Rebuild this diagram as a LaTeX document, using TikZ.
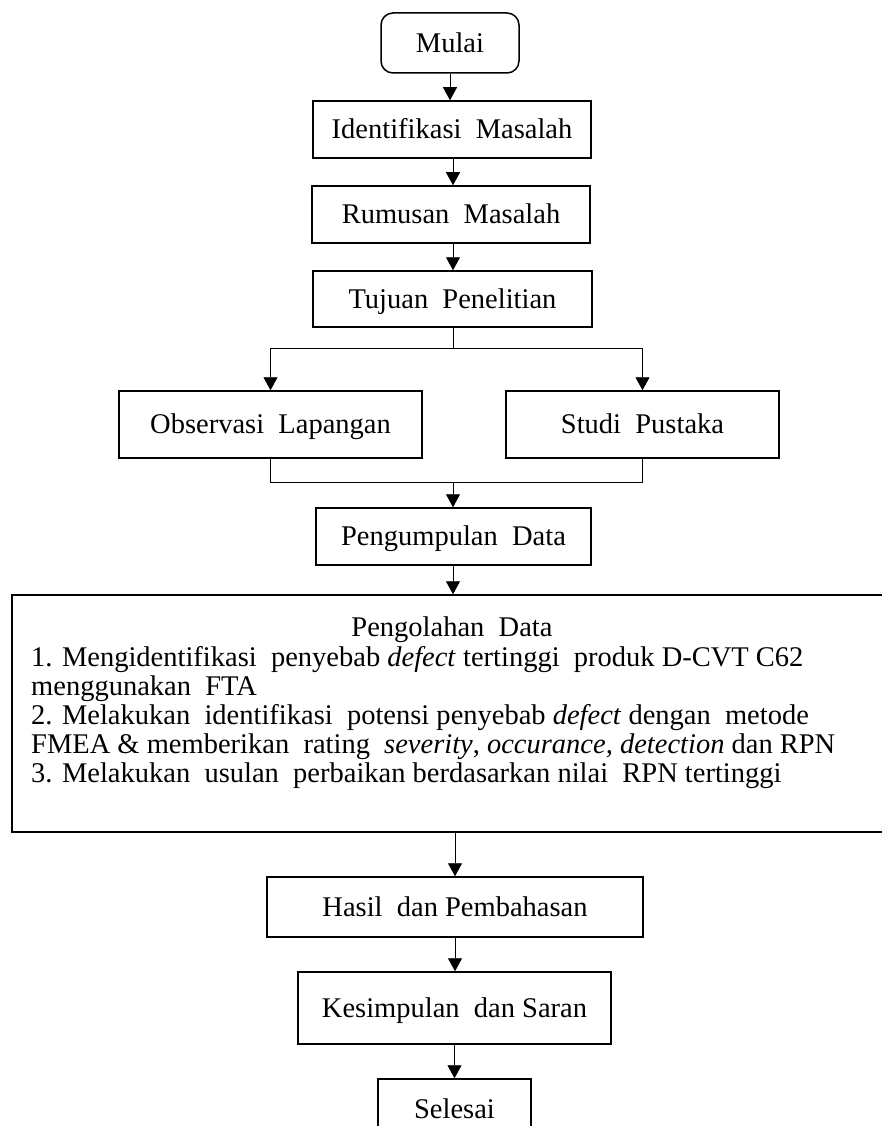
\documentclass[tikz,border=0pt]{standalone}
\usepackage{fontspec}
\setmainfont{Liberation Serif}
\usetikzlibrary{arrows.meta}

\tikzset{
  kotak/.style={draw, line width=1.5pt, inner sep=0pt, align=center, text height=19pt, text depth=0.5pt},
  bulat/.style={kotak, rounded corners=12pt},
  garis/.style={line width=0.9pt},
  panah/.style={garis, -{Triangle[length=13pt,width=14pt]}}
}

\begin{document}
\begin{tikzpicture}[x=1pt,y=-1pt,font=\fontsize{28.5}{29}\selectfont]
  \useasboundingbox (0,0) rectangle (882,1126);
  \def\xtengah{453}
  % kotak utama
  \node[bulat, minimum width=138pt, minimum height=60pt] (mulai) at (450,43) {Mulai};
  \node[kotak, minimum width=278pt, minimum height=57pt] (identifikasi) at (452,129.5) {Identifikasi\ \ Masalah};
  \node[kotak, minimum width=278pt, minimum height=57pt] (rumusan) at (451,214.5) {Rumusan\ \ Masalah};
  \node[kotak, minimum width=279pt, minimum height=56pt] (tujuan) at (452.5,299) {Tujuan\ \ Penelitian};
  \node[kotak, minimum width=303pt, minimum height=67pt] (observasi) at (270.5,424.5) {Observasi\ \ Lapangan};
  \node[kotak, minimum width=273pt, minimum height=67pt] (studi) at (642.5,424.5) {Studi\ \ Pustaka};
  \node[kotak, minimum width=275pt, minimum height=57pt] (kumpul) at (453.5,536.5) {Pengumpulan\ \ Data};
  \node[kotak, minimum width=888pt, minimum height=237pt] (olah) at (456,713.5) {};
  \node[kotak, minimum width=376pt, minimum height=60pt] (hasil) at (455,907) {Hasil\ \ dan Pembahasan};
  \node[kotak, minimum width=313pt, minimum height=72pt] (simpulan) at (454.5,1008) {Kesimpulan\ \ dan Saran};
  \node[kotak, minimum width=153pt, minimum height=60pt] (selesai) at (454.5,1109) {Selesai};
  %
  % isi pengolahan data
  \node[anchor=base, inner sep=0pt] (judulolah) at (452,636) {Pengolahan\ \ Data};
  \foreach \baris [count=\i] in {
      {1. Mengidentifikasi\ \ penyebab \textit{defect} tertinggi\ \ produk D-CVT C62},
      {menggunakan\ \ FTA},
      {2. Melakukan\ \ identifikasi\ \ potensi penyebab \textit{defect} dengan\ \ metode},
      {FMEA \& memberikan\ \ rating\ \ \textit{severity}, \textit{occurance, detection} dan RPN},
      {3. Melakukan\ \ usulan\ \ perbaikan berdasarkan nilai\ \ RPN tertinggi}}
    \node[anchor=base west, inner sep=0pt] (isi\i) at (31,{637+29*\i}) {\baris};
  %
  % panah
  \coordinate (pisah) at (\xtengah,348);
  \coordinate (gabung) at (\xtengah,482);
  \draw[panah] (mulai.south) -- (mulai.south |- identifikasi.north);
  \draw[panah] (identifikasi.south -| \xtengah,0) -- (rumusan.north -| \xtengah,0);
  \draw[panah] (rumusan.south -| \xtengah,0) -- (tujuan.north -| \xtengah,0);
  \draw[garis] (tujuan.south -| pisah) -- (pisah);
  \draw[garis] (observasi.north |- pisah) -- (studi.north |- pisah);
  \foreach \n in {observasi,studi}
    \draw[panah] (\n.north |- pisah) -- (\n.north);
  \draw[garis] (observasi.south) -- (observasi.south |- gabung) -- (studi.south |- gabung) -- (studi.south);
  \draw[panah] (gabung) -- (gabung |- kumpul.north);
  \draw[panah] (kumpul.south -| gabung) -- (olah.north -| gabung);
  \draw[panah] (hasil.north |- olah.south) -- (hasil.north);
  \draw[panah] (hasil.south) -- (hasil.south |- simpulan.north);
  \draw[panah] (simpulan.south) -- (simpulan.south |- selesai.north);
  %
\end{tikzpicture}
\end{document}
